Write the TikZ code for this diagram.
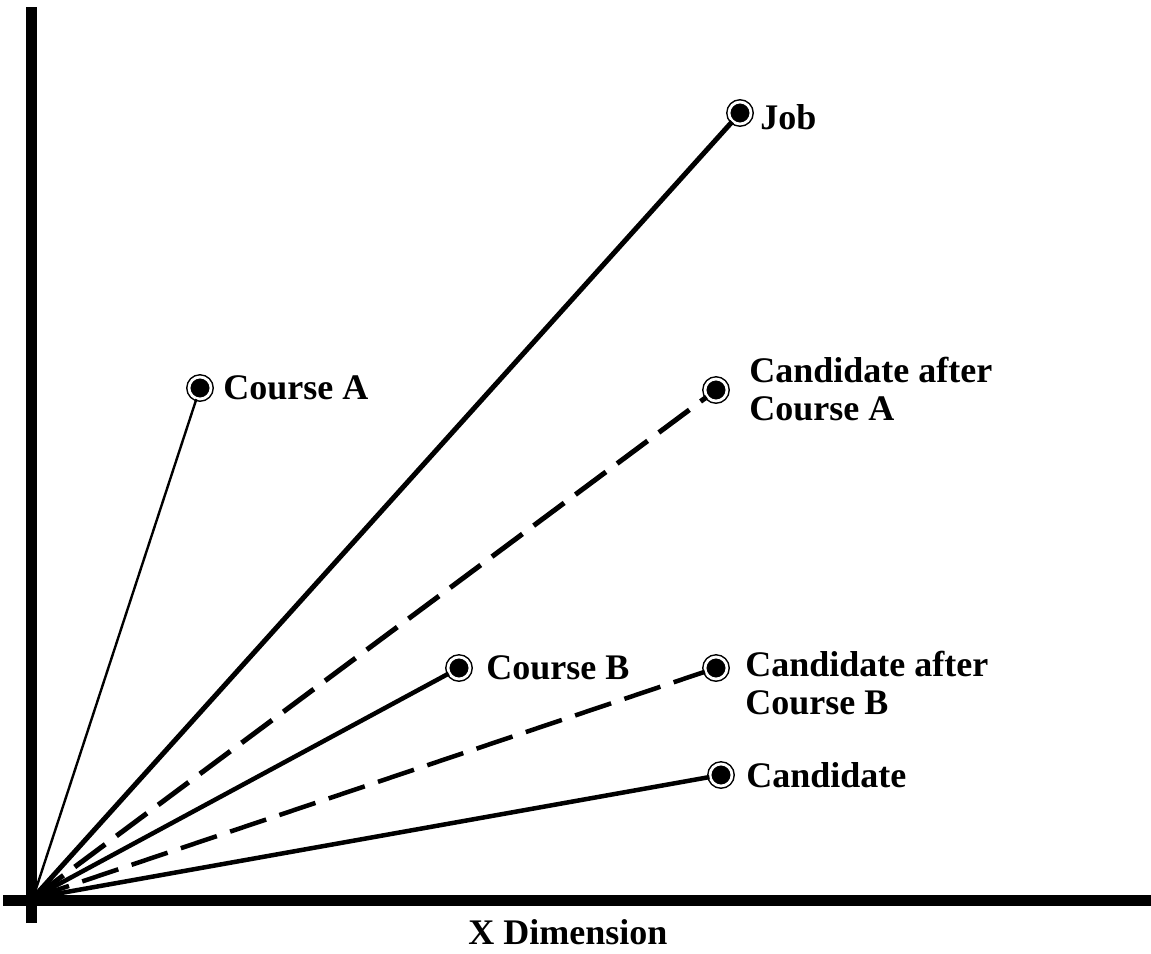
\documentclass[tikz,border=0pt]{standalone}
\usepackage{fontspec}
\setmainfont{Liberation Serif}
\newcommand{\bigbold}{\fontsize{36}{38}\selectfont\bfseries}

\begin{document}
\begin{tikzpicture}[x=1pt,y=-1pt,
  mark point/.style={circle,fill=black,draw=black,double=white,double distance=2.8pt,
    line width=1.5pt,inner sep=0pt,minimum size=22pt},
  every label/.style={font=\bigbold,align=left},
  axis/.style={line width=11pt},
  dashline/.style={line width=5pt,dash pattern=on 38pt off 14pt}]
\useasboundingbox (0,0) rectangle (1151,953);
% axes
\coordinate (o) at (33,898);
\coordinate (ytop) at (31,7);
\coordinate (ybot) at (31,923);
\coordinate (xl) at (3,900);
\coordinate (xr) at (1151,900);
\draw[axis] (ybot) -- (ytop);
\draw[axis] (xl) -- (xr);
\node[font=\bigbold] (xlab) at (568,932) {X Dimension};
% points
\node[mark point] (job) at (740,113) [label={[yshift=-4pt,label distance=5pt]right:Job}] {};
\node[mark point] (cA) at (200,388) [label={[label distance=8pt]right:Course A}] {};
\node[mark point] (candA) at (716,390) [label={[yshift=1pt,label distance=18pt]right:Candidate after\\Course A}] {};
\node[mark point] (cB) at (459,668) [label={[label distance=12pt]right:Course B}] {};
\node[mark point] (candB) at (716,668) [label={[yshift=-15pt,label distance=14pt]right:Candidate after\\Course B}] {};
\node[mark point] (cand) at (721,775) [label={[label distance=10pt]right:Candidate}] {};
% vectors
\draw[line width=5pt] (o) -- (job);
\draw[line width=2.4pt] (o) -- (cA);
\draw[dashline] (o) -- (candA);
\draw[line width=4.5pt] (o) -- (cB);
\draw[dashline,line width=4.5pt] (o) -- (candB);
\draw[line width=4.5pt] (o) -- (cand);
\end{tikzpicture}
\end{document}
